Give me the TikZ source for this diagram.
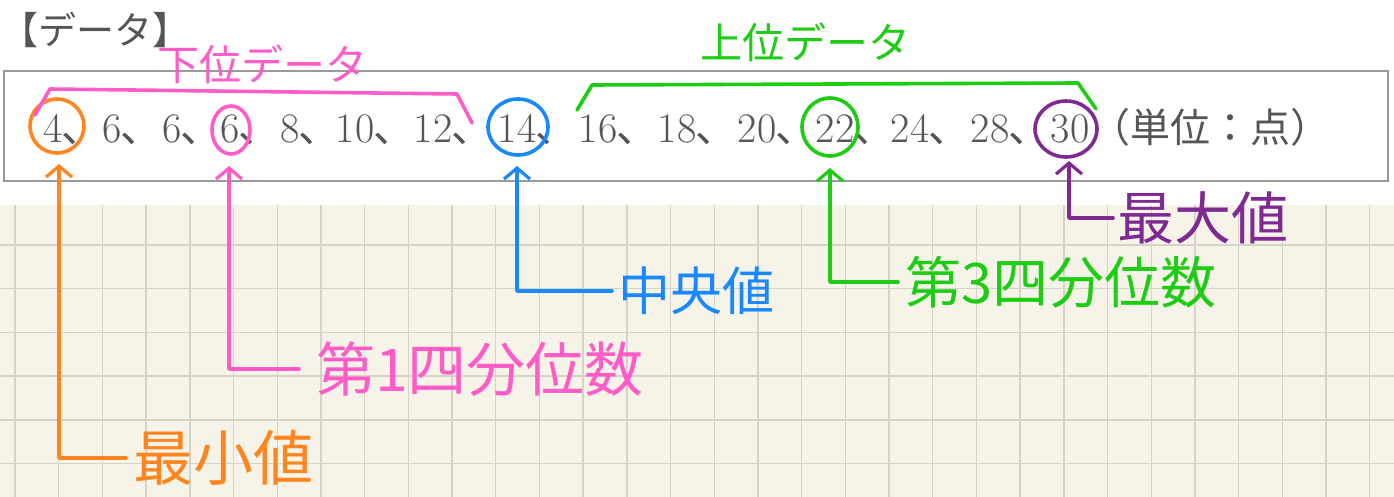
\documentclass[tikz,border=0pt]{standalone}
\usepackage{fontspec}
\newfontfamily\cjk{Noto Sans CJK JP}
\usetikzlibrary{arrows.meta}
\definecolor{hOrange}{HTML}{FF8520}
\definecolor{hPink}{HTML}{FF5CC8}
\definecolor{hBlue}{HTML}{1A88FF}
\definecolor{hGreen}{HTML}{1ECC14}
\definecolor{hPurple}{HTML}{7E2A92}
\definecolor{txtgray}{HTML}{555555}
\definecolor{boxgray}{HTML}{9A9A9A}
\definecolor{paper}{HTML}{F6F4E9}
\definecolor{gridline}{HTML}{D6D4C9}
\newcommand{\tk}{\rlap{\cjk ､}}
\begin{document}
\begin{tikzpicture}[x=1pt,y=-1pt,
 num/.style={anchor=base, inner sep=0pt, text=txtgray, font=\fontsize{42}{42}\selectfont},
 hand/.style={line width=3.6pt, line cap=round, line join=round},
 handarrow/.style={hand, -{Straight Barb[length=11pt,width=26pt,line width=3.2pt]}},
 hlabel/.style={anchor=west, inner sep=0pt},
 bracelabel/.style={inner sep=0pt, font=\cjk\fontsize{42}{42}\selectfont},
]
\useasboundingbox (0,0) rectangle (1394,497);
\fill[white] (0,0) rectangle (1394,205);
\fill[paper] (0,205) rectangle (1394,497);
\begin{scope}
\clip (0,205) rectangle (1394,497);
\foreach \i in {0,...,31} \draw[gridline, line width=1.4pt] (15+43.7*\i,205) -- (15+43.7*\i,497);
\foreach \j in {0,...,6} \draw[gridline, line width=1.4pt] (0,245+43.7*\j) -- (1394,245+43.7*\j);
\end{scope}

% title and data box
\node[text=txtgray, font=\cjk\fontsize{38}{38}\selectfont, inner sep=0pt, anchor=west] (title) at (0,30) {【データ】};
\draw[boxgray, line width=2pt] (4,71) rectangle (1388,181);

% data values
\node[num] (n1) at (53,143) {4\tk};
\node[num] (n2) at (112,143) {6\tk};
\node[num] (n3) at (172,143) {6\tk};
\node[num] (n4) at (230,143) {6\tk};
\node[num] (n5) at (290,143) {8\tk};
\node[num] (n6) at (355,143) {10\tk};
\node[num] (n7) at (433,143) {12\tk};
\node[num] (n8) at (517,143) {14\tk};
\node[num] (n9) at (598,143) {16\tk};
\node[num] (n10) at (677,143) {18\tk};
\node[num] (n11) at (757,143) {20\tk};
\node[num] (n12) at (835,143) {22\tk};
\node[num] (n13) at (910,143) {24\tk};
\node[num] (n14) at (990,143) {28\tk};
\node[num] (n15) at (1070,143) {30};
\node[num, font=\cjk\fontsize{40}{40}\selectfont] (unit) at (1210,143) {（単位：点）};

% circles
\draw[hand, hOrange] (57,126) ellipse [x radius=27, y radius=27];
\draw[hand, hPink] (231,130) ellipse [x radius=19, y radius=24];
\draw[hand, hBlue] (518,127) ellipse [x radius=30, y radius=28];
\draw[hand, hGreen] (830,127) ellipse [x radius=28, y radius=29];
\draw[hand, hPurple] (1066,129) ellipse [x radius=31, y radius=28];

% brackets
\node[bracelabel, text=hPink] (lower) at (262,64) {下位データ};
\node[bracelabel, text=hGreen] (upper) at (805,42) {上位データ};
\draw[hand, hPink] (35,115) -- (50,89) -- (457,94) -- (472,123);
\draw[hand, hGreen] (577,110) -- (592,85) -- (1078,83) -- (1096,109);

% arrow tips
\coordinate (t1) at (59,164);
\coordinate (t4) at (229,166);
\coordinate (t8) at (517,166);
\coordinate (t12) at (830,168);
\coordinate (t15) at (1069,161);

% labels
\node[hlabel, text=hOrange, font=\cjk\fontsize{60}{60}\selectfont] (lmin) at (133,458) {最小値};
\node[hlabel, text=hPink, font=\cjk\fontsize{59}{59}\selectfont] (lq1) at (316,369) {第1四分位数};
\node[hlabel, text=hBlue, font=\cjk\fontsize{52}{52}\selectfont] (lmed) at (618,291) {中央値};
\node[hlabel, text=hGreen, font=\cjk\fontsize{56}{56}\selectfont] (lq3) at (905,282) {第3四分位数};
\node[hlabel, text=hPurple, font=\cjk\fontsize{57}{57}\selectfont] (lmax) at (1117,218) {最大値};

% connectors
\draw[handarrow, hOrange] ([xshift=-7pt]lmin.west) -| (t1);
\draw[handarrow, hPink] ([xshift=-17pt]lq1.west) -| (t4);
\draw[handarrow, hBlue] ([xshift=-6pt]lmed.west) -| (t8);
\draw[handarrow, hGreen] ([xshift=-7pt]lq3.west) -| (t12);
\draw[handarrow, hPurple] ([xshift=-4pt]lmax.west) -| (t15);
\end{tikzpicture}
\end{document}
